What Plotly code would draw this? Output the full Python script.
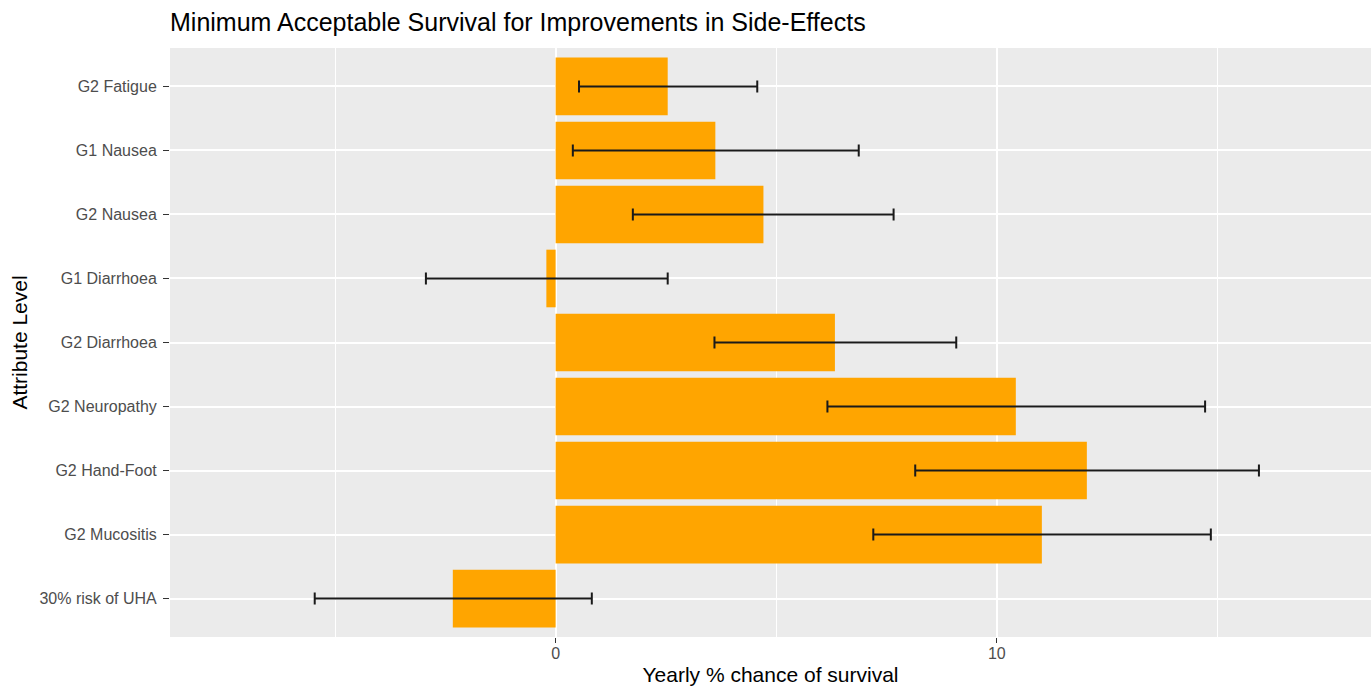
import plotly.graph_objects as go

categories = ["G2 Fatigue", "G1 Nausea", "G2 Nausea", "G1 Diarrhoea", "G2 Diarrhoea",
              "G2 Neuropathy", "G2 Hand-Foot", "G2 Mucositis", "30% risk of UHA"]
values = [2.54, 3.62, 4.71, -0.21, 6.33, 10.43, 12.04, 11.02, -2.33]
lower = [0.53, 0.39, 1.75, -2.94, 3.60, 6.16, 8.15, 7.20, -5.46]
upper = [4.57, 6.87, 7.66, 2.54, 9.08, 14.72, 15.94, 14.85, 0.82]

err_plus = [u - v for u, v in zip(upper, values)]
err_minus = [v - l for v, l in zip(values, lower)]

fig = go.Figure()
fig.add_trace(go.Bar(
    x=values, y=categories, orientation="h",
    width=0.9,
    marker=dict(color="#FFA500", line=dict(width=0)),
    error_x=dict(type="data", array=err_plus, arrayminus=err_minus,
                 color="#1a1a1a", thickness=2, width=6, visible=True),
    hoverinfo="x+y",
))

fig.update_layout(
    width=1371, height=686,
    margin=dict(l=170, r=0, t=48, b=49),
    paper_bgcolor="white", plot_bgcolor="#EBEBEB",
    font=dict(family="Liberation Sans, Arial, sans-serif", color="#4D4D4D"),
    title=dict(text="Minimum Acceptable Survival for Improvements in Side-Effects",
               x=170 / 1371, xanchor="left", y=1 - 22 / 686, yanchor="middle",
               font=dict(size=25, color="black")),
    showlegend=False,
    bargap=0.1,
)
fig.update_xaxes(
    automargin=False,
    range=[-8.74, 18.48], dtick=10, tick0=0,
    showgrid=True, gridcolor="white", gridwidth=1.6,
    minor=dict(dtick=5, tick0=0, showgrid=True, gridcolor="white", gridwidth=0.8),
    zeroline=False,
    ticks="outside", ticklen=5, tickwidth=1, tickcolor="#333333",
    tickfont=dict(size=16, color="#4D4D4D"),
    ticklabelstandoff=-3,
    title=dict(text="Yearly % chance of survival", font=dict(size=21, color="black"), standoff=12),
    showline=False,
)
fig.update_yaxes(
    automargin=False,
    categoryorder="array", categoryarray=categories,
    range=[8.6, -0.6],
    showgrid=True, gridcolor="white", gridwidth=1.6,
    zeroline=False,
    ticks="outside", ticklen=6, tickwidth=1, tickcolor="#333333",
    tickfont=dict(size=16, color="#4D4D4D"),
    ticklabelstandoff=3,
    title=dict(text="Attribute Level", font=dict(size=21, color="black"), standoff=6),
    showline=False,
)

fig.write_html("out.html", config={"displayModeBar": False},
               post_script="document.body.style.margin='0';")
